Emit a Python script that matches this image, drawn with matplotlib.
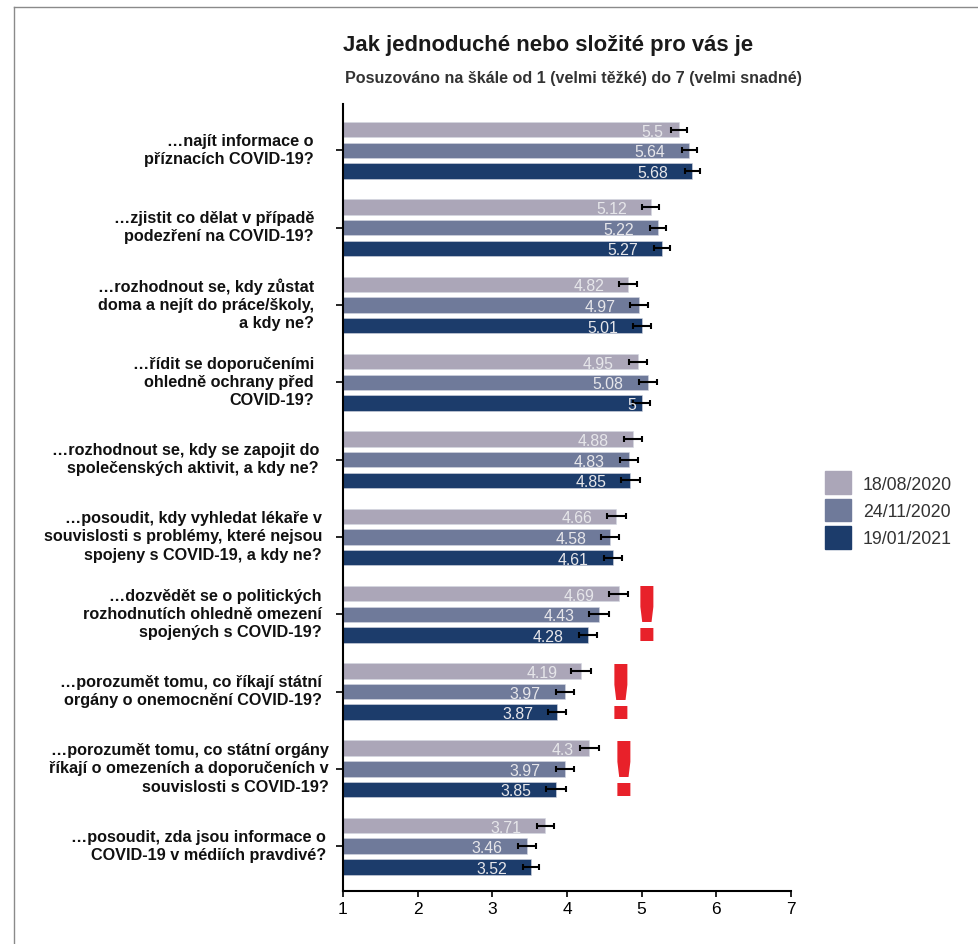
import numpy as np
import matplotlib
matplotlib.use('Agg')
import matplotlib.pyplot as plt
from matplotlib.lines import Line2D
from matplotlib.patches import Patch

plt.rcParams['font.family'] = ['Liberation Sans', 'DejaVu Sans']

questions = [
    '…najít informace o\npříznacích COVID-19?',
    '…zjistit co dělat v případě\npodezření na COVID-19?',
    '…rozhodnout se, kdy zůstat\ndoma a nejít do práce/školy,\na kdy ne?',
    '…řídit se doporučeními\nohledně ochrany před\nCOVID-19?',
    '…rozhodnout se, kdy se zapojit do\nspolečenských aktivit, a kdy ne?',
    '…posoudit, kdy vyhledat lékaře v\nsouvislosti s problémy, které nejsou\nspojeny s COVID-19, a kdy ne?',
    '…dozvědět se o politických\nrozhodnutích ohledně omezení\nspojených s COVID-19?',
    '…porozumět tomu, co říkají státní\norgány o onemocnění COVID-19?',
    '…porozumět tomu, co státní orgány\nříkají o omezeních a doporučeních v\nsouvislosti s COVID-19?',
    '…posoudit, zda jsou informace o\nCOVID-19 v médiích pravdivé?',
]
dates = ['18/08/2020', '24/11/2020', '19/01/2021']
aug_2020 = [5.5, 5.12, 4.82, 4.95, 4.88, 4.66, 4.69, 4.19, 4.3, 3.71]
nov_2020 = [5.64, 5.22, 4.97, 5.08, 4.83, 4.58, 4.43, 3.97, 3.97, 3.46]
jan_2021 = [5.68, 5.27, 5.01, 5, 4.85, 4.61, 4.28, 3.87, 3.85, 3.52]
aug_err = [0.11, 0.11, 0.12, 0.125, 0.12, 0.125, 0.127, 0.135, 0.125, 0.115]
nov_err = [0.10, 0.105, 0.12, 0.12, 0.125, 0.12, 0.13, 0.12, 0.12, 0.12]
jan_err = [0.10, 0.11, 0.12, 0.115, 0.13, 0.12, 0.12, 0.12, 0.13, 0.11]
colors = ['#aba6b8', '#6f7a9a', '#1c3c6b']

series = [aug_2020, nov_2020, jan_2021]
errors = [aug_err, nov_err, jan_err]

W, H = 979, 945
fig = plt.figure(figsize=(W / 100, H / 100), dpi=100)
ax = fig.add_axes([343 / W, 1 - 892 / H, (791 - 343) / W, (892 - 105) / H])

y = np.arange(len(questions))
# distance of the label's right edge from the bar end, px
label_gap = {1: 6, 3: 16, 4: 24}
for i in range(3):
    pos = y + (i - 1) * 0.267
    ax.barh(pos, np.array(series[i]) - 1, left=1, height=0.2, color=colors[i], edgecolor='#d5d8e2', linewidth=0.4)
    ax.errorbar(series[i], pos, xerr=errors[i], fmt='none', ecolor='black', elinewidth=1.5, capsize=2.2, capthick=1.5)
    for p, v in zip(pos, series[i]):
        s = str(v)
        ax.annotate(s, (v, p), xytext=(-label_gap[len(s)] * 0.72, 0), textcoords='offset points',
                    ha='right', va='center_baseline', fontsize=11.4, color='#e6e6ea')

ax.set_xlim(1, 7)
ax.set_ylim(9.58, -0.6)
ax.set_xticks(range(1, 8))
ax.set_yticks(y)
ax.set_yticklabels([])
ax.tick_params(axis='x', length=4, width=1.2, labelsize=12.5, pad=3.5)
ax.tick_params(axis='y', length=5, width=1.2)
ax.spines['top'].set_visible(False)
ax.spines['right'].set_visible(False)
ax.spines['left'].set_linewidth(1.5)
ax.spines['bottom'].set_linewidth(1.5)

# right edges wander a bit in the original
label_right = [-29, -29, -29, -29, -24, -21, -21, -21, -14, -17]
for p, q, dx in zip(y, questions, label_right):
    ax.annotate(q, (1, p), xytext=(dx * 0.72, 0.7), textcoords='offset points', ha='right', va='center',
                ma='right', fontsize=11.7, fontweight='bold', color='#111111', linespacing=1.26)

for x0, y0 in [(5.06, 6.33), (4.72, 7.34), (4.76, 8.34)]:
    ax.text(x0, y0, '!', color='#e8212a', fontsize=53, fontweight='bold', family='DejaVu Sans',
            ha='center', va='baseline')

fig.text(343 / W, 1 - 46 / H, 'Jak jednoduché nebo složité pro vás je', fontsize=15.9, fontweight='bold',
         color='#1a1a1a', ha='left', va='center')
fig.text(345 / W, 1 - 79 / H, 'Posuzováno na škále od 1 (velmi těžké) do 7 (velmi snadné)', fontsize=11.65,
         fontweight='bold', color='#333333', ha='left', va='center')

handles = [Patch(color=c, label=d) for c, d in zip(colors, dates)]
fig.legend(handles=handles, loc='center left', bbox_to_anchor=(825 / W, 1 - 511 / H), frameon=False,
           fontsize=12.8, labelcolor='#333333', borderpad=0, borderaxespad=0, handlelength=1.47,
           handleheight=1.6, labelspacing=0.25, handletextpad=0.67)

# screenshot frame
frame = '#8a8a8a'
fig.add_artist(Line2D([14 / W, 14 / W], [0, 1 - 8 / H], color=frame, lw=1))
fig.add_artist(Line2D([14 / W, 1], [1 - 8 / H, 1 - 8 / H], color=frame, lw=1))

fig.savefig('out.png', dpi=100)
